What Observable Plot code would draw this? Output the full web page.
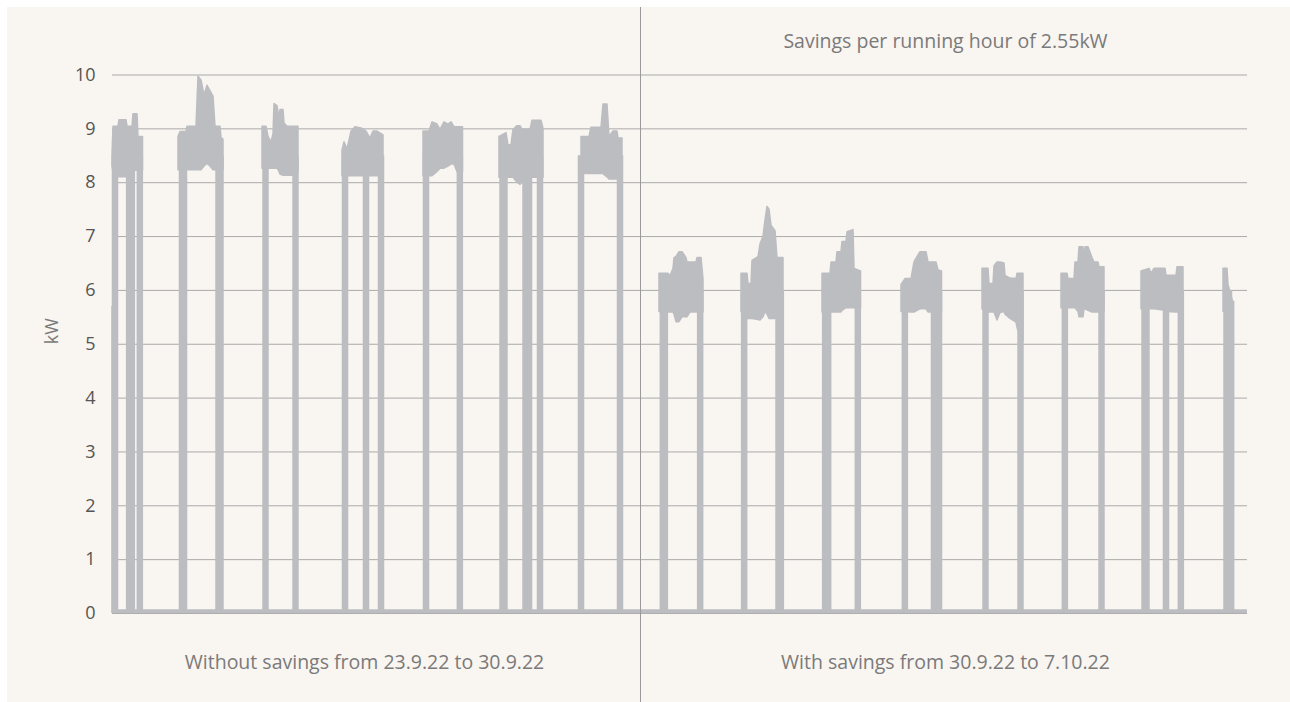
<!DOCTYPE html>
<html>
<head>
<meta charset="utf-8">
<script src="https://cdn.jsdelivr.net/npm/d3@7"></script>
<script src="https://cdn.jsdelivr.net/npm/@observablehq/plot@0.6"></script>
<style>
  html, body { margin: 0; padding: 0; background: #ffffff; }
  #panel { position: absolute; left: 7px; top: 7px; width: 1283px; height: 695px; background: #f9f5f1; overflow: hidden; }
</style>
</head>
<body>
<div id="panel"></div>
<script>
// ---- data (hours since start of the recording, kW) ----
const yTicks = [0, 1, 2, 3, 4, 5, 6, 7, 8, 9, 10];
const seriesEnd = 340.5;          // last hour of the recording
const weekSplit = [158.4];        // hour where the savings period starts
const standbyKW = 0.04;           // consumption while switched off
const startReading = [[0.0, 5.7]];

// running days: [hour, lowest kW, highest kW] envelope of the noisy load
const runBands = [
  [[0.0,8.3,8.5],[0.3,8.2,9.04],[1.8,8.1,9.04],[2.1,8.1,9.16],[4.2,8.1,9.16],[4.5,8.22,9.04],[6.0,8.22,9.04],[6.3,8.22,9.27],[7.5,8.22,9.27],[7.8,8.22,8.85],[9.15,8.22,8.85]],
  [[19.8,8.23,8.85],[20.4,8.23,8.94],[22.2,8.23,8.94],[22.5,8.23,9.04],[25.2,8.23,9.04],[25.8,8.23,9.97],[26.7,8.23,9.9],[27.6,8.3,9.62],[28.5,8.35,9.8],[29.4,8.3,9.7],[30.3,8.23,9.6],[30.9,8.23,9.04],[32.4,8.23,9.04],[32.7,8.23,8.83],[33.3,8.23,8.8]],
  [[45.0,8.26,9.04],[46.2,8.26,9.04],[46.8,8.26,8.85],[47.7,8.26,8.75],[48.3,8.26,8.9],[48.6,8.26,9.46],[49.5,8.26,9.42],[50.1,8.2,9.2],[50.4,8.15,9.35],[51.3,8.13,9.35],[51.6,8.13,9.1],[52.5,8.13,9.04],[54.3,8.13,9.04],[55.8,8.2,9.04]],
  [[69.0,8.12,8.6],[69.6,8.12,8.75],[70.5,8.12,8.62],[71.7,8.12,8.95],[72.9,8.12,9.03],[75.0,8.12,9.0],[76.2,8.12,8.95],[77.4,8.12,8.82],[78.3,8.12,8.95],[79.5,8.12,8.95],[81.3,8.12,8.88]],
  [[93.3,8.12,8.95],[95.1,8.12,8.95],[96.0,8.12,9.12],[97.5,8.2,9.08],[98.4,8.26,8.98],[99.6,8.26,9.12],[100.8,8.3,9.08],[101.7,8.34,9.12],[102.6,8.34,9.03],[103.5,8.2,9.03],[105.15,8.2,9.03]],
  [[116.1,8.09,8.85],[118.2,8.09,8.92],[118.8,8.09,8.69],[119.7,8.09,8.7],[120.3,8.09,8.98],[121.5,8.0,9.05],[122.4,7.96,9.05],[123.0,8.0,8.98],[125.4,8.09,8.98],[126.0,8.09,9.15],[128.7,8.09,9.15],[129.3,8.09,9.0]],
  [[140.7,8.16,8.85],[143.1,8.16,8.85],[143.7,8.16,9.02],[146.7,8.16,9.02],[147.3,8.16,9.45],[148.5,8.1,9.45],[149.1,8.06,8.85],[150.3,8.06,8.95],[151.5,8.06,8.95],[151.8,8.1,8.82],[153.0,8.16,8.82]],
  [[164.1,5.6,6.31],[166.8,5.59,6.31],[167.4,5.59,6.26],[168.3,5.59,6.4],[168.6,5.55,6.6],[169.2,5.41,6.62],[170.1,5.41,6.71],[171.0,5.5,6.71],[172.2,5.5,6.6],[172.5,5.5,6.52],[173.4,5.59,6.52],[175.2,5.59,6.52],[175.5,5.59,6.6],[176.7,5.59,6.6],[177.3,5.59,6.2]],
  [[188.7,5.6,6.31],[190.5,5.47,6.31],[190.8,5.47,6.12],[191.7,5.47,6.12],[192.0,5.47,6.55],[193.8,5.45,6.62],[194.4,5.44,6.85],[195.3,5.5,7.0],[195.9,5.6,7.3],[196.5,5.55,7.55],[197.1,5.47,7.5],[197.7,5.47,7.2],[198.9,5.47,7.1],[199.5,5.5,6.6],[201.3,5.6,6.6]],
  [[213.0,5.59,6.31],[215.4,5.59,6.31],[215.7,5.59,6.52],[217.2,5.59,6.52],[217.5,5.59,6.71],[218.7,5.59,6.71],[219.0,5.62,6.9],[220.2,5.67,6.9],[220.5,5.67,7.08],[222.3,5.67,7.12],[222.6,5.67,6.4],[224.55,5.67,6.35]],
  [[236.7,5.6,6.1],[237.9,5.6,6.21],[239.7,5.59,6.21],[240.6,5.59,6.52],[241.8,5.63,6.65],[242.4,5.65,6.71],[244.2,5.65,6.71],[244.8,5.59,6.52],[247.2,5.59,6.52],[247.8,5.59,6.37],[248.85,5.59,6.35]],
  [[261.0,5.65,6.4],[262.8,5.59,6.4],[263.1,5.59,6.12],[264.3,5.59,6.12],[264.6,5.59,6.45],[265.5,5.44,6.52],[266.4,5.58,6.52],[267.6,5.6,6.5],[267.9,5.55,6.27],[269.4,5.47,6.22],[271.2,5.4,6.21],[271.5,5.3,6.31],[272.4,5.15,6.31],[273.3,5.06,6.31]],
  [[284.7,5.67,6.31],[286.5,5.67,6.31],[286.8,5.67,6.21],[288.6,5.67,6.21],[288.9,5.67,6.52],[289.8,5.6,6.52],[290.1,5.5,6.8],[291.3,5.5,6.8],[291.6,5.65,6.55],[291.9,5.65,6.8],[292.8,5.62,6.8],[294.0,5.59,6.6],[294.6,5.59,6.52],[295.8,5.59,6.52],[296.1,5.59,6.43],[297.6,5.6,6.43]],
  [[308.7,5.65,6.35],[311.1,5.65,6.4],[311.7,5.65,6.31],[312.6,5.65,6.4],[315.9,5.62,6.4],[316.2,5.6,6.27],[319.2,5.59,6.27],[319.5,5.59,6.43],[321.3,5.6,6.43]],
  [[333.3,5.6,6.4],[334.5,5.6,6.4],[334.8,5.6,6.1],[335.7,5.6,5.9],[336.3,5.6,5.75]]
];

// switch-on / switch-off transitions: [hour, kW reached]
const barsWithout = [[0.75,8.5],[5.0,8.5],[5.8,8.5],[8.2,8.5],[20.85,8.5],[21.45,8.5],[31.8,8.5],[32.4,8.5],[45.9,8.5],[54.9,8.5],[69.75,8.5],[76.05,8.5],[80.55,8.5],[94.05,8.5],[104.2,8.5],[117.0,8.5],[117.6,8.5],[123.9,8.5],[124.95,8.5],[128.25,8.5],[140.55,8.5],[152.25,8.5]];
const barsWith = [[165.1,6.0],[165.7,6.0],[176.3,6.0],[189.5,6.0],[199.8,6.0],[200.5,6.0],[213.8,6.0],[214.7,6.0],[223.6,6.0],[237.7,6.0],[246.45,6.0],[247.2,6.0],[247.95,6.0],[261.9,6.0],[272.4,6.0],[285.7,6.0],[296.7,6.0],[309.6,6.0],[310.2,6.0],[316.05,6.0],[320.5,6.0],[334.2,6.0],[334.95,6.0],[335.6,5.8]];

const noteText = ["Savings per running hour of 2.55kW"];
const noteHour = [249.9];
const periodLabels = ["Without savings from 23.9.22 to 30.9.22", "With savings from 30.9.22 to 7.10.22"];
const periodCenters = [75.6, 249.9];

// ---- build tables ----
const bandRows = runBands.flatMap((day, i) => day.map(([hour, low, high]) => ({day: i, hour, low, high})));
const barRows = [...barsWithout, ...barsWith].map(([hour, top]) => ({hour, top}));
const GRAY = "#bcbdc1";

const chart = Plot.plot({
  width: 1283,
  height: 695,
  marginLeft: 105,
  marginRight: 43,
  marginTop: 67.5,
  marginBottom: 89,
  style: {background: "transparent", fontFamily: "'Open Sans', sans-serif", overflow: "visible"},
  x: {domain: [0, seriesEnd], axis: null},
  y: {domain: [0, 10], axis: null},
  marks: [
    Plot.ruleY(yTicks, {stroke: "#aaaaaa", strokeWidth: 1}),
    Plot.areaY(bandRows, {x: "hour", y1: "low", y2: "high", z: "day", fill: GRAY, stroke: GRAY, strokeWidth: 1.5, strokeLinejoin: "round", curve: "linear"}),
    Plot.ruleX(barRows, {x: "hour", y1: 0, y2: "top", stroke: GRAY, strokeWidth: 6.5}),
    Plot.ruleY([standbyKW], {x1: 0, x2: seriesEnd, stroke: GRAY, strokeWidth: 4}),
    Plot.ruleX(startReading, {x: d => d[0], y1: 0, y2: d => d[1], stroke: GRAY, strokeWidth: 2.5}),
    Plot.axisY(yTicks, {tickSize: 0, tickPadding: 17, fontSize: 18, fill: "#555555", label: null, tickFormat: d => String(d)}),
    Plot.text(["kW"], {frameAnchor: "left", dx: -60, dy: 0, rotate: -90, fontSize: 18, fill: "#7a7a7a", lineAnchor: "middle"}),
    Plot.text(noteText, {x: noteHour, text: d => d, frameAnchor: "top", lineAnchor: "middle", dy: -33.5, fontSize: 19.5, fill: "#7a7a7a"}),
    Plot.text(periodLabels, {x: periodCenters, text: d => d, frameAnchor: "bottom", lineAnchor: "middle", dy: 49, fontSize: 19.5, fill: "#7a7a7a"}),
    Plot.ruleX(weekSplit, {stroke: "#9a9a9a", strokeWidth: 1, insetTop: -67.5, insetBottom: -89})
  ]
});
document.getElementById("panel").appendChild(chart);
</script>
</body>
</html>
